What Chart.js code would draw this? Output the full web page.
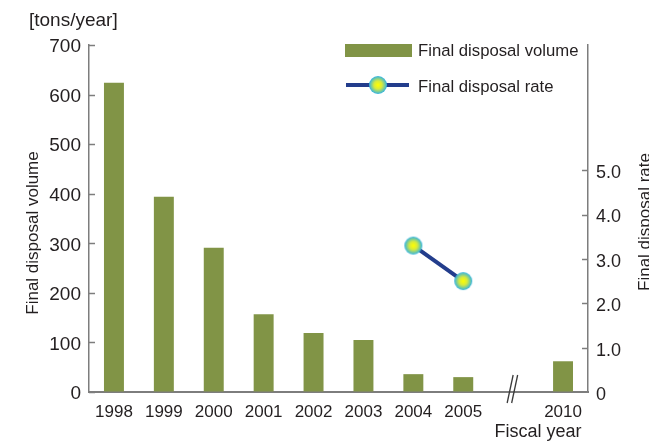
<!DOCTYPE html>
<html>
<head>
<meta charset="utf-8">
<script src="https://cdn.jsdelivr.net/npm/chart.js@4.4.0/dist/chart.umd.min.js"></script>
<style>
  html, body { margin: 0; padding: 0; background: #fff; }
  #wrap { width: 649px; height: 442px; }
</style>
</head>
<body>
<div id="wrap"><canvas id="chart" width="649" height="442"></canvas></div>
<script>
// ─── DATA ───────────────────────────────────────────────
const years = ["1998", "1999", "2000", "2001", "2002", "2003", "2004", "2005", "", "2010"];
const volume = [624, 394, 291, 157, 119, 105, 36, 30, null, 62];
const rate = [null, null, null, null, null, null, 3.3, 2.5, null, null];
const volumeTicks = [0, 100, 200, 300, 400, 500, 600, 700];
const rateTicks = [0, 1, 2, 3, 4, 5];

// ─── STYLE ──────────────────────────────────────────────
const FONT = "'Liberation Sans', Arial, sans-serif";
const OLIVE = "#819446";
const NAVY = "#233d8c";
const AXIS = "#7d7d7d";
const TEXT = "#231f20";

function makeDot(r) {
  const c = document.createElement("canvas");
  c.width = c.height = r * 2 + 2;
  const g = c.getContext("2d");
  const m = r + 1;
  const grad = g.createRadialGradient(m, m, 0, m, m, r);
  grad.addColorStop(0, "#ffff00");
  grad.addColorStop(0.45, "#d6ea3e");
  grad.addColorStop(1, "#2eb2e6");
  g.fillStyle = grad;
  g.beginPath();
  g.arc(m, m, r, 0, Math.PI * 2);
  g.fill();
  return c;
}
const dot = makeDot(9);

function seg(ctx, x1, y1, x2, y2) {
  ctx.beginPath();
  ctx.moveTo(x1, y1);
  ctx.lineTo(x2, y2);
  ctx.stroke();
}

// ticks inside the axes, break mark, legend, titles
const decor = {
  id: "decor",
  afterDraw(chart) {
    const { ctx, chartArea: a, scales } = chart;
    ctx.save();
    ctx.strokeStyle = AXIS;
    ctx.lineWidth = 1.5;
    volumeTicks.forEach(v => {
      const y = Math.round(scales.y.getPixelForValue(v)) + 0.5;
      seg(ctx, a.left, y, a.left + 6, y);
    });
    rateTicks.slice(1).forEach(v => {
      const y = Math.round(scales.y2.getPixelForValue(v)) + 0.5;
      seg(ctx, a.right - 6, y, a.right, y);
    });

    // axis break between 2005 and 2010
    const bx = scales.x.getPixelForValue(8);
    ctx.strokeStyle = "#3a3a3a";
    ctx.lineWidth = 1.3;
    seg(ctx, bx - 6, a.bottom + 11, bx, a.bottom - 17);
    seg(ctx, bx - 1.5, a.bottom + 11, bx + 4.5, a.bottom - 17);

    // legend
    ctx.fillStyle = OLIVE;
    ctx.fillRect(345, 44, 67, 13);
    ctx.strokeStyle = NAVY;
    ctx.lineWidth = 4;
    seg(ctx, 346, 85, 409, 85);
    ctx.drawImage(dot, 378 - dot.width / 2, 85 - dot.height / 2);
    ctx.fillStyle = TEXT;
    ctx.font = `16.7px ${FONT}`;
    ctx.textBaseline = "middle";
    ctx.textAlign = "left";
    ctx.fillText("Final disposal volume", 418, 51);
    ctx.fillText("Final disposal rate", 418, 87);

    // unit and axis titles
    ctx.font = `19px ${FONT}`;
    ctx.fillText("[tons/year]", 29, 21);
    ctx.font = `18px ${FONT}`;
    ctx.textAlign = "center";
    ctx.fillText("Fiscal year", 538, 432);

    ctx.font = `17px ${FONT}`;
    ctx.textBaseline = "alphabetic";
    ctx.save();
    ctx.translate(38, 233);
    ctx.rotate(-Math.PI / 2);
    ctx.fillText("Final disposal volume", 0, 0);
    ctx.restore();
    ctx.save();
    ctx.translate(650, 222);
    ctx.rotate(-Math.PI / 2);
    ctx.fillText("Final disposal rate", 0, 0);
    ctx.restore();
    ctx.restore();
  },
};

new Chart(document.getElementById("chart"), {
  data: {
    labels: years,
    datasets: [
      {
        type: "line",
        label: "Final disposal rate",
        data: rate,
        yAxisID: "y2",
        borderColor: NAVY,
        borderWidth: 4,
        pointStyle: dot,
        order: 0,
      },
      {
        type: "bar",
        label: "Final disposal volume",
        data: volume,
        yAxisID: "y",
        backgroundColor: OLIVE,
        barPercentage: 0.4,
        categoryPercentage: 1,
        order: 1,
      },
    ],
  },
  options: {
    responsive: false,
    animation: false,
    devicePixelRatio: 1,
    layout: { padding: { top: 45, left: 0, right: 0, bottom: 0 } },
    plugins: { legend: { display: false }, tooltip: { enabled: false } },
    scales: {
      x: {
        grid: { display: true, drawOnChartArea: false, drawTicks: false },
        border: { display: true, color: AXIS, width: 2 },
        ticks: { color: TEXT, font: { family: FONT, size: 17 }, padding: 10, maxRotation: 0, autoSkip: false },
        afterFit(s) { s.height = 50; },
      },
      y: {
        position: "left",
        min: 0, max: 700,
        grid: { display: true, drawOnChartArea: false, drawTicks: false },
        border: { display: true, color: AXIS, width: 1.5 },
        ticks: { stepSize: 100, color: TEXT, font: { family: FONT, size: 19 }, padding: 8, labelOffset: 2 },
        afterFit(s) { s.width = 89; },
      },
      y2: {
        position: "right",
        min: 0, max: 7.82,
        grid: { display: true, drawOnChartArea: false, drawTicks: false },
        border: { display: true, color: AXIS, width: 1.5 },
        ticks: {
          stepSize: 1,
          color: TEXT,
          font: { family: FONT, size: 18 },
          padding: 8,
          labelOffset: 3,
          callback: v => rateTicks.includes(v) ? (v === 0 ? "0" : v.toFixed(1)) : null,
        },
        afterFit(s) { s.width = 61; },
      },
    },
  },
  plugins: [decor],
});
</script>
</body>
</html>
